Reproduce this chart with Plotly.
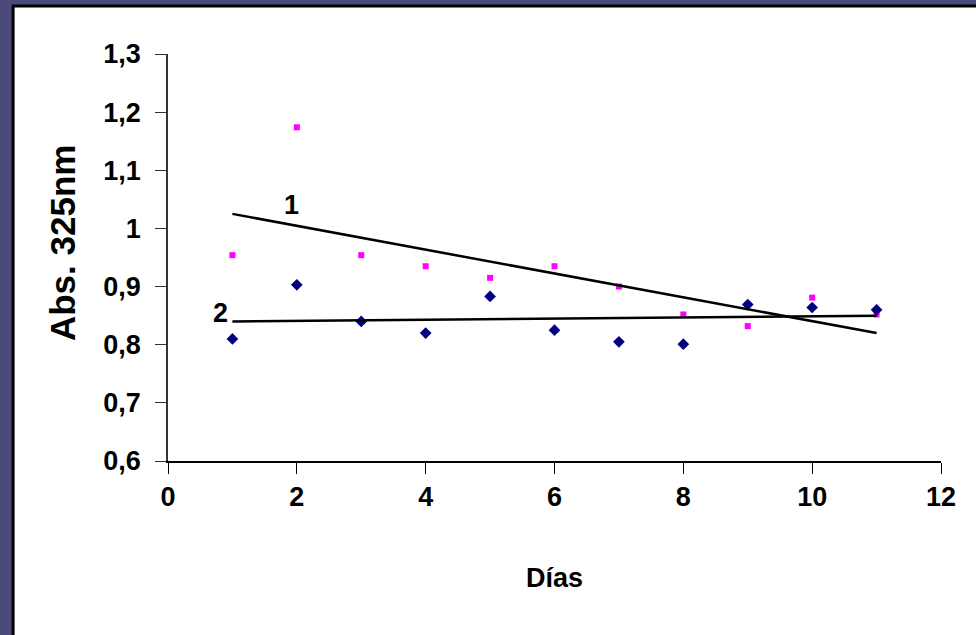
import plotly.graph_objects as go

# Data
dias = [1, 2, 3, 4, 5, 6, 7, 8, 9, 10, 11]
serie1 = [0.954, 1.174, 0.954, 0.935, 0.915, 0.935, 0.900, 0.852, 0.832, 0.881, 0.852]
serie2 = [0.810, 0.903, 0.840, 0.820, 0.883, 0.825, 0.805, 0.801, 0.869, 0.864, 0.860]
trend_x = [1, 11]
trend1_y = [1.025, 0.820]
trend2_y = [0.840, 0.850]

x_ticks = [0, 2, 4, 6, 8, 10, 12]
y_ticks = [0.6, 0.7, 0.8, 0.9, 1.0, 1.1, 1.2, 1.3]
y_ticktext = ["0,6", "0,7", "0,8", "0,9", "1", "1,1", "1,2", "1,3"]

W, H = 976, 635
L, R, T, B = 168, 34.5, 54, 174
pw, ph = W - L - R, H - T - B

def px_x(p):
    return (p - L) / pw

def px_y(p):
    return (H - B - p) / ph

font_fam = "Liberation Sans, Arial, sans-serif"

fig = go.Figure()
fig.add_trace(go.Scatter(x=dias, y=serie1, mode="markers",
                         marker=dict(symbol="square", size=6, color="#FF00FF"),
                         showlegend=False))
fig.add_trace(go.Scatter(x=dias, y=serie2, mode="markers",
                         marker=dict(symbol="diamond", size=9, color="#000080"),
                         showlegend=False))
fig.add_trace(go.Scatter(x=trend_x, y=trend1_y, mode="lines",
                         line=dict(color="black", width=2.5), showlegend=False))
fig.add_trace(go.Scatter(x=trend_x, y=trend2_y, mode="lines",
                         line=dict(color="black", width=2.5), showlegend=False))

fig.add_shape(type="rect", xref="paper", yref="paper",
              x0=px_x(13), x1=px_x(W + 20), y0=px_y(H + 20), y1=px_y(6),
              fillcolor="white", line=dict(color="black", width=3), layer="below")

fig.add_annotation(x=1.92, y=1.040, xref="x", yref="y", text="1", showarrow=False,
                   font=dict(family=font_fam, size=27, color="black", weight="bold"))
fig.add_annotation(x=0.81, y=0.855, xref="x", yref="y", text="2", showarrow=False,
                   font=dict(family=font_fam, size=27, color="black", weight="bold"))

fig.add_annotation(x=px_x(62), y=px_y(243), xref="paper", yref="paper",
                   xanchor="center", yanchor="middle",
                   text="Abs. 325nm", textangle=-90, showarrow=False,
                   font=dict(family=font_fam, size=35, color="black", weight="bold"))
fig.add_annotation(x=px_x(555), y=px_y(578), xref="paper", yref="paper",
                   xanchor="center", yanchor="middle",
                   text="Días", showarrow=False,
                   font=dict(family=font_fam, size=27, color="black", weight="bold"))

fig.update_xaxes(range=[0, 12], tickvals=x_ticks, ticktext=[str(v) for v in x_ticks],
                 showline=True, linecolor="black", linewidth=1.5,
                 ticks="outside", ticklen=11, tickcolor="black", tickwidth=1,
                 showgrid=False, zeroline=False, ticklabelstandoff=0,
                 tickfont=dict(family=font_fam, size=27, color="black", weight="bold"))
fig.update_yaxes(range=[0.6, 1.3], tickvals=y_ticks, ticktext=y_ticktext,
                 showline=True, linecolor="#333333", linewidth=1.5,
                 ticks="outside", ticklen=11, tickcolor="#333333", tickwidth=1,
                 showgrid=False, zeroline=False, ticklabelstandoff=9,
                 tickfont=dict(family=font_fam, size=27, color="black", weight="bold"))

fig.update_layout(width=W, height=H, autosize=False,
                  margin=dict(l=L, r=R, t=T, b=B),
                  paper_bgcolor="#4a4a7c", plot_bgcolor="white",
                  showlegend=False)

fig.write_html("out.html", config={"displayModeBar": False},
               post_script="document.body.style.margin='0';document.body.style.overflow='hidden';")
